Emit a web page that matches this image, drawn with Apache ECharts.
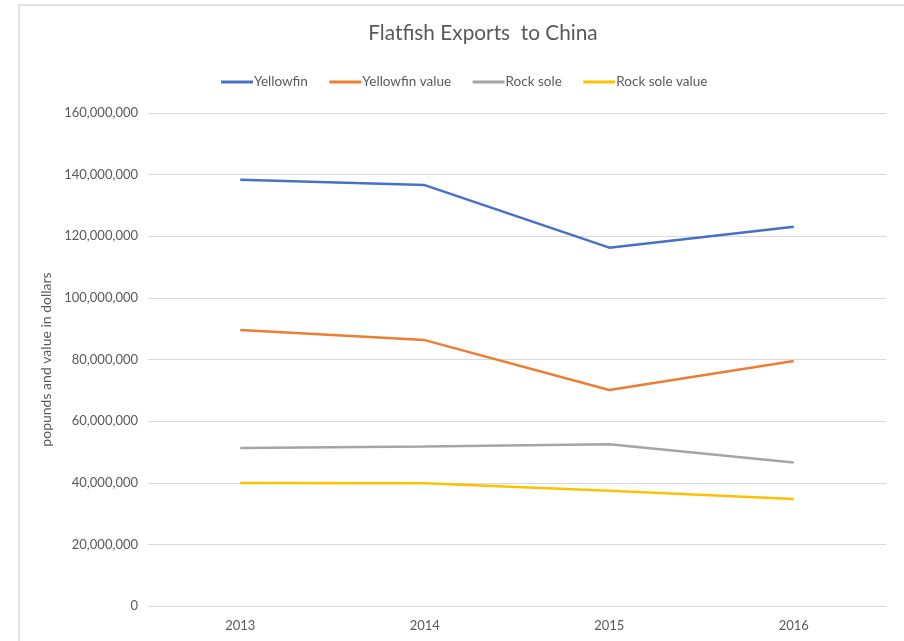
<!DOCTYPE html>
<html>
<head>
<meta charset="utf-8">
<script src="https://cdn.jsdelivr.net/npm/echarts@6/dist/echarts.min.js"></script>
<style>
  html, body { margin: 0; padding: 0; background: #fff; }
  #chart { width: 904px; height: 641px; }
</style>
</head>
<body>
<div id="chart"></div>
<script>
// Export years and series (pounds / dollars)
const years = ['2013', '2014', '2015', '2016'];
const yellowfin = [138300000, 136600000, 116300000, 123100000];
const yellowfinValue = [89600000, 86300000, 70100000, 79500000];
const rockSole = [51300000, 51800000, 52500000, 46600000];
const rockSoleValue = [39900000, 39800000, 37400000, 34700000];

const seriesNames = ['Yellowfin', 'Yellowfin value', 'Rock sole', 'Rock sole value'];
const seriesColors = ['#4472C4', '#ED7D31', '#A5A5A5', '#FFC000'];
const seriesData = [yellowfin, yellowfinValue, rockSole, rockSoleValue];

const font = 'Lato, "Open Sans", sans-serif';
const textColor = '#595959';

const chart = echarts.init(document.getElementById('chart'), null, { renderer: 'canvas' });

chart.setOption({
  backgroundColor: '#ffffff',
  animation: false,
  textStyle: { fontFamily: font },
  title: {
    text: 'Flatfish Exports  to China',
    left: 478,
    textAlign: 'center',
    top: 18,
    textStyle: { fontFamily: font, fontSize: 20.8, fontWeight: 'normal', color: textColor }
  },
  legend: {
    data: seriesNames,
    top: 70,
    left: 216,
    itemWidth: 32,
    itemHeight: 3,
    itemGap: 21.5,
    icon: 'rect',
    textStyle: { fontFamily: font, fontSize: 13.5, color: textColor, padding: [0, 0, 0, -4] }
  },
  graphic: [{
    type: 'rect',
    shape: { x: 19, y: 5, width: 900, height: 650 },
    style: { fill: 'none', stroke: '#d9d9d9', lineWidth: 1.5 },
    silent: true
  }],
  grid: { left: 148, right: 18, top: 113, bottom: 35, containLabel: false },
  xAxis: {
    type: 'category',
    data: years,
    boundaryGap: true,
    axisLine: { show: true, lineStyle: { color: '#d9d9d9', width: 1 } },
    axisTick: { show: false },
    axisLabel: { color: textColor, fontSize: 13, fontFamily: font, margin: 13 }
  },
  yAxis: {
    type: 'value',
    min: 0,
    max: 160000000,
    interval: 20000000,
    name: 'popunds and value in dollars',
    nameLocation: 'middle',
    nameGap: 88,
    nameRotate: 90,
    nameTextStyle: { color: textColor, fontSize: 14, fontFamily: font },
    axisLine: { show: false },
    axisTick: { show: false },
    axisLabel: {
      color: textColor, fontSize: 13, fontFamily: font, margin: 10,
      formatter: v => v.toLocaleString('en-US')
    },
    splitLine: { lineStyle: { color: '#d9d9d9', width: 1 } }
  },
  series: seriesNames.map((name, i) => ({
    name,
    type: 'line',
    data: seriesData[i],
    symbol: 'none',
    lineStyle: { color: seriesColors[i], width: 2.5 },
    itemStyle: { color: seriesColors[i] }
  }))
});
</script>
</body>
</html>
